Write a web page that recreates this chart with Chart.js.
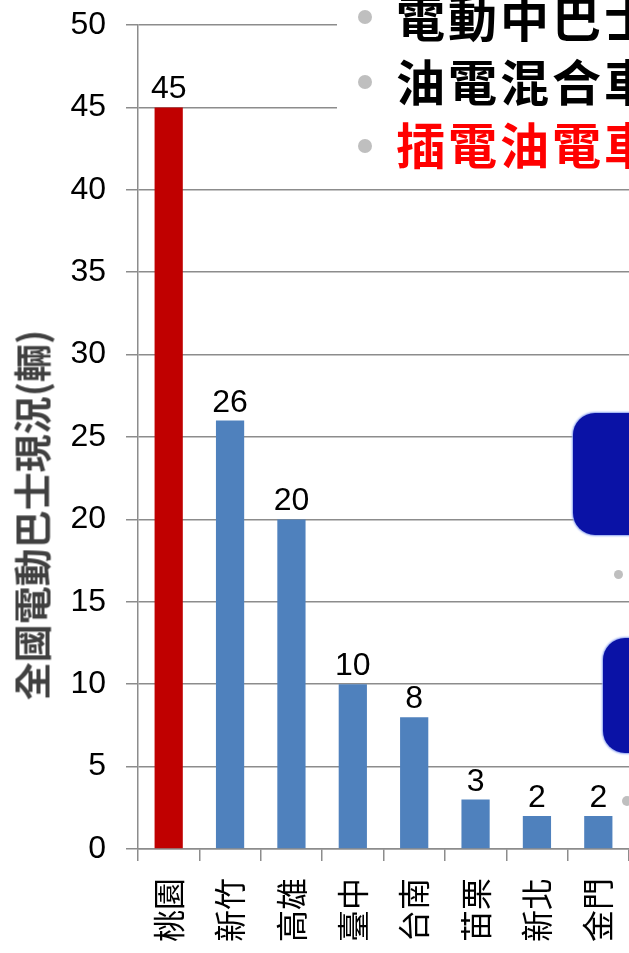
<!DOCTYPE html>
<html>
<head>
<meta charset="utf-8">
<script src="https://cdn.jsdelivr.net/npm/chart.js@4.4.0/dist/chart.umd.min.js"></script>
<style>
  html, body { margin: 0; padding: 0; background: #fff; }
  #wrap { position: relative; width: 629px; height: 953px; overflow: hidden; }
  #yTitle {
    position: absolute; left: 30px; top: 515px;
    transform: translate(-50%, -50%) rotate(-90deg);
    white-space: nowrap;
    font: bold 38px "Noto Sans CJK TC", sans-serif;
    color: #404040;
  }
  #bullets {
    position: absolute; left: 337px; top: 0; width: 300px; height: 172px;
    background: #fff; overflow: hidden;
  }
  .line {
    position: absolute; left: 59px; white-space: nowrap;
    font: bold 49px "Noto Sans CJK TC", sans-serif;
    letter-spacing: 3px; line-height: 1;
  }
  .dot { position: absolute; border-radius: 50%; background: #bfbfbf; }
  .box {
    position: absolute; background: #0a12a6; border-radius: 22px;
    box-shadow: 0 0 2px 1px #8aa0ee;
  }
</style>
</head>
<body>
<div id="wrap">
  <canvas id="myChart" width="629" height="953"></canvas>
  <div id="yTitle">全國電動巴士現況(輛)</div>
  <div id="bullets">
    <div class="dot" style="left:21px;top:10px;width:14px;height:14px"></div>
    <div class="dot" style="left:21px;top:75px;width:14px;height:14px"></div>
    <div class="dot" style="left:21px;top:139px;width:14px;height:14px"></div>
    <div class="line" style="top:-9px;color:#000">電動中巴士</div>
    <div class="line" style="top:55px;color:#000">油電混合車</div>
    <div class="line" style="top:118px;color:#ff0000">插電油電車</div>
  </div>
  <div class="box" style="left:573px;top:413px;width:90px;height:122px"></div>
  <div class="box" style="left:603px;top:638px;width:60px;height:115px"></div>
  <div class="dot" style="left:614px;top:570px;width:9px;height:9px"></div>
  <div class="dot" style="left:622px;top:796px;width:10px;height:10px"></div>
</div>
<script>
const cidades = ['桃園', '新竹', '高雄', '臺中', '台南', '苗栗', '新北', '金門'];
const onibus = [45, 26, 20, 10, 8, 3, 2, 2];
const yTicks = [0, 5, 10, 15, 20, 25, 30, 35, 40, 45, 50];

const gridColor = '#8c8c8c';
const barColors = cidades.map((c, i) => (i === 0 ? '#c00000' : '#4f81bd'));

// valores em cima das barras
const valueLabels = {
  id: 'valueLabels',
  afterDatasetsDraw(chart) {
    const ctx = chart.ctx;
    const meta = chart.getDatasetMeta(0);
    ctx.save();
    ctx.font = '32px "Liberation Sans", sans-serif';
    ctx.fillStyle = '#000';
    ctx.textAlign = 'center';
    ctx.textBaseline = 'alphabetic';
    meta.data.forEach((bar, i) => {
      ctx.fillText(String(onibus[i]), bar.x, bar.y - 9);
    });
    ctx.restore();
  }
};

const ctx = document.getElementById('myChart').getContext('2d');
new Chart(ctx, {
  type: 'bar',
  data: {
    labels: cidades,
    datasets: [{
      data: onibus,
      backgroundColor: barColors,
      borderWidth: 0,
      categoryPercentage: 1,
      barPercentage: 0.46,
    }],
  },
  options: {
    responsive: false,
    animation: false,
    devicePixelRatio: 1,
    layout: { padding: { left: 0, top: 25, right: 0, bottom: 0 } },
    plugins: {
      legend: { display: false },
      tooltip: { enabled: false },
    },
    scales: {
      x: {
        offset: true,
        afterFit(scale) {
          scale.height = 104;
          scale.paddingLeft = 0;
          scale.paddingRight = 0;
        },
        grid: {
          drawOnChartArea: false,
          drawTicks: true,
          tickLength: 12,
          color: gridColor,
          lineWidth: 1.5,
        },
        border: { color: gridColor, width: 1.5 },
        ticks: {
          minRotation: 90,
          maxRotation: 90,
          padding: 17,
          color: '#000',
          font: { family: '"Noto Sans CJK TC", sans-serif', size: 32 },
        },
      },
      y: {
        min: 0,
        max: 50,
        afterFit(scale) {
          scale.width = 138;
          scale.paddingTop = 0;
          scale.paddingBottom = 0;
        },
        afterBuildTicks(scale) { scale.ticks = yTicks.map(v => ({ value: v })); },
        grid: {
          color: gridColor,
          lineWidth: 1.5,
          tickLength: 12,
        },
        border: { color: gridColor, width: 1.5 },
        ticks: {
          padding: 20,
          color: '#000',
          font: { family: '"Liberation Sans", sans-serif', size: 32 },
        },
      },
    },
  },
  plugins: [valueLabels],
});
</script>
</body>
</html>
